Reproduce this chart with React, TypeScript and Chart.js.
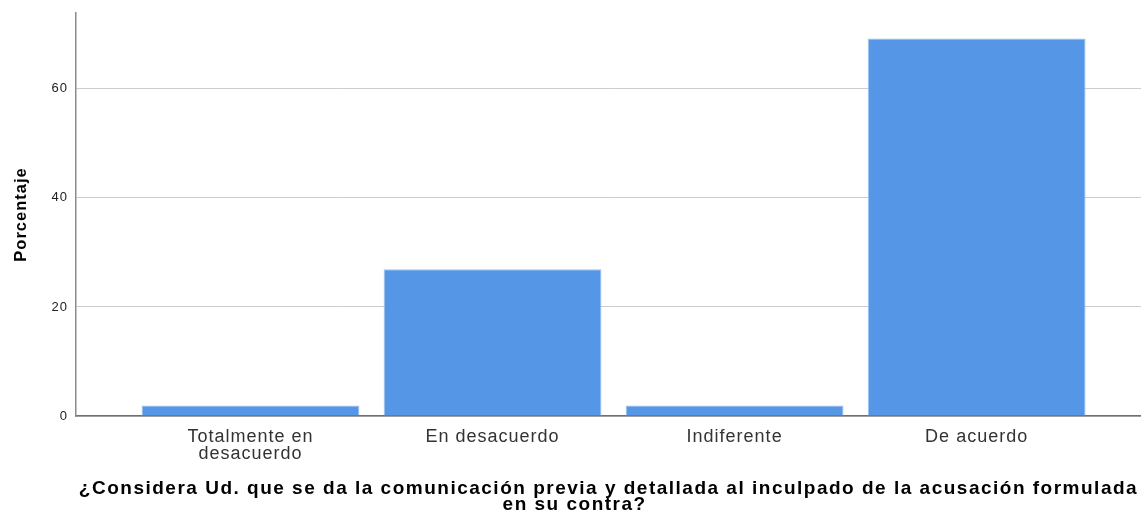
import React, { useEffect, useRef } from "react";
import { Chart, registerables } from "chart.js";

Chart.register(...registerables);

const categories: string[][] = [
  ["Totalmente en", "desacuerdo"],
  ["En desacuerdo"],
  ["Indiferente"],
  ["De acuerdo"],
];
const percentages: number[] = [1.92, 26.92, 1.92, 69.23];
const yTicks: number[] = [0, 20, 40, 60];
const yMax = 73.9;
const yTitle = "Porcentaje";
const xTitle: string[] = [
  "¿Considera Ud. que se da la comunicación previa y detallada al inculpado de la acusación formulada",
  "en su contra?\u00a0\u00a0\u00a0\u00a0\u00a0\u00a0\u00a0\u00a0\u00a0\u00a0",
];

const spacingPlugin = {
  id: "letterSpacing",
  beforeDraw(chart: any) {
    chart.ctx.letterSpacing = "1px";
    const sx = chart.scales.x;
    if (sx && !sx.__wrapped) {
      const orig = sx.drawTitle;
      sx.drawTitle = function (...args: any[]) {
        const ctx = this.ctx;
        const prev = ctx.letterSpacing;
        ctx.letterSpacing = "1.5px";
        orig.apply(this, args);
        ctx.letterSpacing = prev;
      };
      sx.__wrapped = true;
    }
  },
};

export default function App() {
  const ref = useRef<HTMLCanvasElement | null>(null);

  useEffect(() => {
    if (!ref.current) return;
    const chart = new Chart(ref.current, {
      type: "bar",
      data: {
        datasets: [
          {
            data: percentages.map((v, i) => ({ x: i, y: v })),
            backgroundColor: "#5596e6",
            borderColor: "#9cc2f0",
            borderWidth: 1,
            categoryPercentage: 1,
            barPercentage: 0.9,
          },
        ],
      },
      plugins: [spacingPlugin],
      options: {
        animation: false,
        responsive: false,
        layout: { padding: { top: 13, left: 0, right: 0, bottom: 0 } },
        plugins: { legend: { display: false }, tooltip: { enabled: false } },
        scales: {
          x: {
            type: "linear",
            offset: false,
            min: -0.721,
            max: 3.679,
            grid: { display: false, drawTicks: false },
            border: { display: true, color: "#707070", width: 1.5 },
            afterBuildTicks: (scale: any) => {
              scale.ticks = categories.map((_, i) => ({ value: i }));
            },
            afterFit: (scale: any) => {
              scale.height = 100;
              scale.paddingLeft = 0;
              scale.paddingRight = 0;
            },
            ticks: {
              autoSkip: false,
              maxRotation: 0,
              padding: 12,
              color: "#333333",
              font: { family: "Liberation Sans", size: 18, lineHeight: 0.95 },
              callback: (v: any) => categories[Number(v)] ?? "",
            },
            title: {
              display: true,
              text: xTitle,
              color: "#000000",
              font: { family: "Liberation Sans", size: 19, weight: "bold", lineHeight: 0.85 },
              padding: { top: 20, bottom: 3 },
            },
          },
          y: {
            min: 0,
            max: yMax,
            afterBuildTicks: (scale: any) => {
              scale.ticks = yTicks.map((v) => ({ value: v }));
            },
            afterFit: (scale: any) => {
              scale.width = 76;
              scale.paddingTop = 0;
              scale.paddingBottom = 0;
            },
            grid: { color: "#cccccc", lineWidth: 1, drawTicks: false },
            border: { display: true, color: "#8c8c8c", width: 1.5 },
            ticks: {
              padding: 8,
              color: "#222222",
              font: { family: "Liberation Sans", size: 13 },
            },
            title: {
              display: true,
              text: yTitle,
              color: "#000000",
              font: { family: "Liberation Sans", size: 16.5, weight: "bold" },
              padding: { top: 12, bottom: 0 },
            },
          },
        },
      },
    });
    return () => chart.destroy();
  }, []);

  return (
    <div style={{ position: "absolute", left: 0, top: 0, width: 1141, height: 516, background: "#ffffff" }}>
      <canvas ref={ref} width={1141} height={516} />
    </div>
  );
}
